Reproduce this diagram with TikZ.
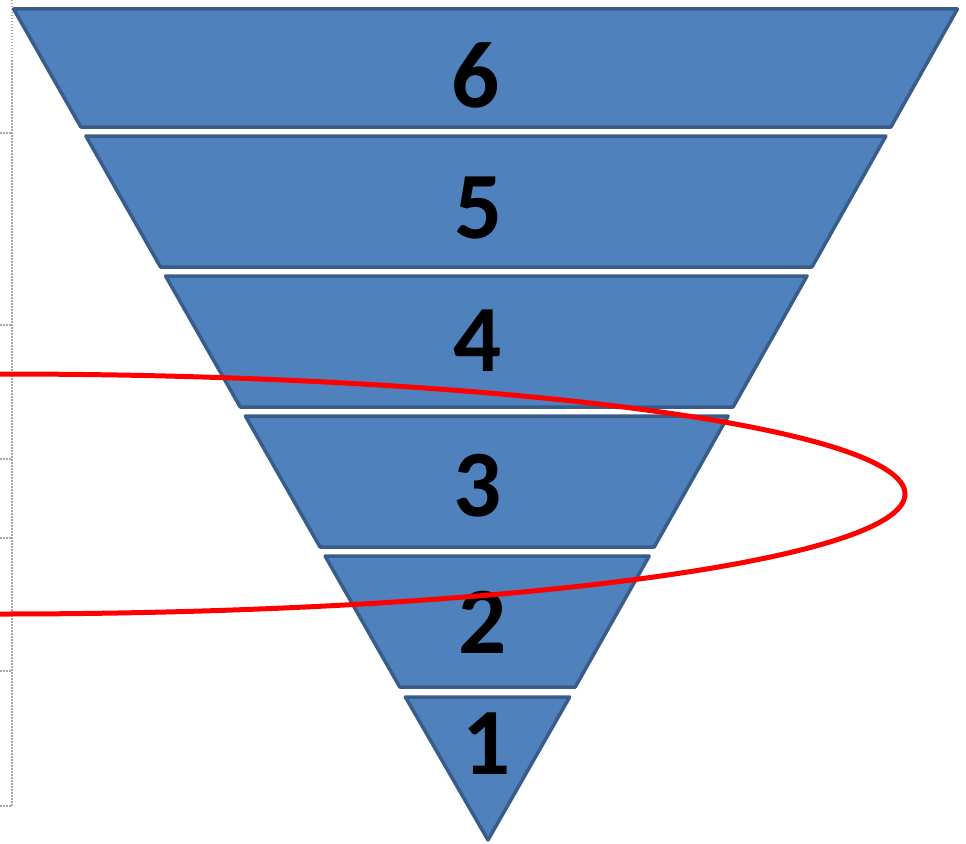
\documentclass[tikz,border=0pt]{standalone}
\usepackage{fontspec}
\setmainfont{Carlito}
\definecolor{bandfill}{HTML}{4F81BD}
\definecolor{bandline}{HTML}{385D8A}
\definecolor{ringred}{HTML}{FF0000}
\definecolor{guide}{HTML}{A6A6A6}
\begin{document}
\begin{tikzpicture}[x=1pt,y=-1pt,
  band/.style={fill=bandfill,draw=bandline,line width=3.5pt,line join=round},
  digit/.style={inner sep=0pt,font=\fontsize{95}{95}\selectfont\bfseries,text=black},
  guideline/.style={draw=guide,line width=1.2pt,dash pattern=on 1.5pt off 1.5pt},
  ring/.style={draw=ringred,line width=5pt}]
\useasboundingbox (0,0) rectangle (966,843);
\clip (0,0) rectangle (966,843);
% guide line with ticks
\draw[guideline] (12,0) -- (12,806);
\foreach \ty in {133,325,459,538,671,806}
  \draw[guideline] (0,\ty) -- (12,\ty);
% bands
\draw[band] (13.6,9) -- (957.4,9) -- (890.9,127) -- (80.8,127) -- cycle;
\draw[band] (85.9,136) -- (885.9,136) -- (812.0,267) -- (160.5,267) -- cycle;
\draw[band] (165.6,276) -- (807.0,276) -- (733.1,407) -- (240.2,407) -- cycle;
\draw[band] (245.4,416) -- (728.1,416) -- (654.2,547) -- (320.0,547) -- cycle;
\draw[band] (325.1,556) -- (649.2,556) -- (575.3,687) -- (399.7,687) -- cycle;
\draw[band] (405.4,697) -- (569.7,697) -- (488,840) -- cycle;
% labels
\node[digit] (l6) at (476,75) {6};
\node[digit] (l5) at (479,208) {5};
\node[digit] (l4) at (478,341) {4};
\node[digit] (l3) at (478,486) {3};
\node[digit] (l2) at (483,622) {2};
\node[digit] (l1) at (487,744) {1};
% red ring
\draw[ring] (0,494) ellipse [x radius=905pt, y radius=120pt];
\end{tikzpicture}
\end{document}
